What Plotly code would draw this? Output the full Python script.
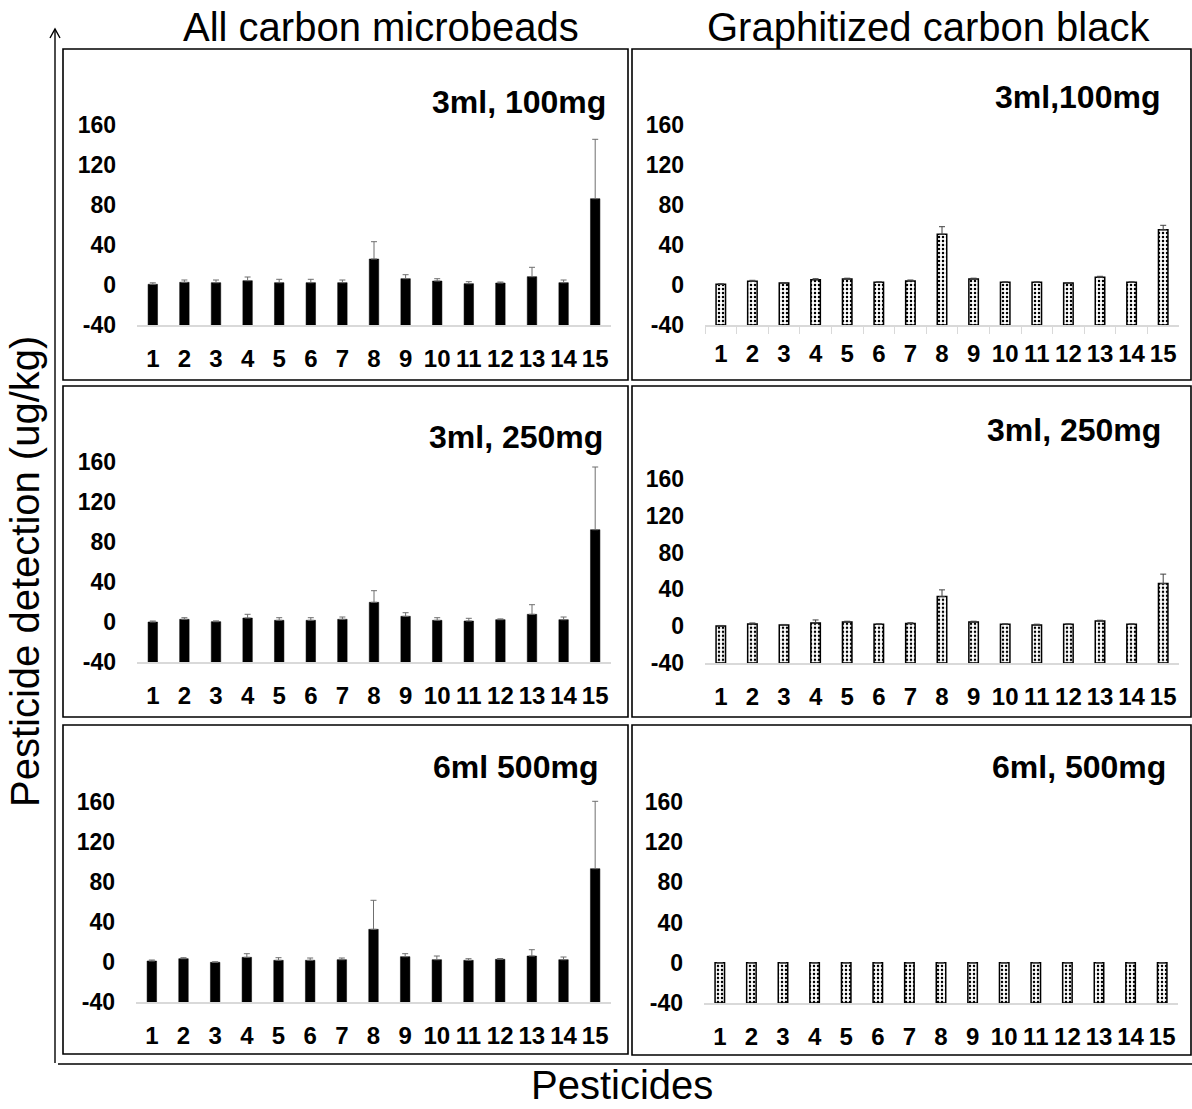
import plotly.graph_objects as go

W, H = 1192, 1109
FONT = "Arial, 'Liberation Sans', sans-serif"

categories = [str(i) for i in range(1, 16)]
y_ticks = [-40, 0, 40, 80, 120, 160]

# All carbon microbeads
acm_100 = [0.7, 2.7, 2.3, 4.3, 2.3, 2.3, 2.3, 26, 6.3, 4, 1.3, 2, 8.3, 2.3, 86.3]
acm_100_err = [1.5, 2.3, 2.7, 3.7, 3.4, 3.4, 2.7, 17.3, 4, 2.3, 2, 1, 9.4, 2.7, 59.4]
acm_250 = [0, 2.7, 0.3, 4, 1.7, 1.7, 2.7, 19.7, 5.7, 1.7, 1, 2.3, 7.7, 2.3, 92.3]
acm_250_err = [1, 1.6, 0.8, 3.7, 2.6, 2.6, 2.3, 11.6, 3.6, 2.6, 2.7, 0.8, 9.6, 2.7, 62.7]
acm_500 = [1, 3.3, -0.3, 4.7, 1.7, 1.7, 2.3, 32.7, 5.3, 2.3, 1.7, 2.7, 6, 2.3, 93.3]
acm_500_err = [1, 1, 0.5, 3.6, 2.6, 2.3, 1.7, 29, 3, 3.7, 1.6, 0.8, 6.3, 2.7, 67.4]

# Graphitized carbon black
gcb_100 = [0.7, 3.7, 2, 5.3, 6, 2.7, 4, 50.7, 6, 2.7, 2.7, 2, 7.7, 2.7, 55.3]
gcb_100_err = [0.5, 1, 0.5, 1, 0.8, 0.5, 1, 7.6, 0.8, 0.5, 0.5, 0.5, 1, 0.5, 4.4]
gcb_250 = [0.3, 2.5, 1.4, 3.6, 4.6, 2.1, 2.8, 32.2, 4.6, 2.1, 1.4, 2.1, 5.7, 2.1, 46.4]
gcb_250_err = [0.5, 1, 0.5, 3.2, 0.8, 0.5, 1, 7.3, 0.8, 0.5, 0.8, 0.5, 0.8, 0.5, 10.2]
gcb_500 = [0] * 15
gcb_500_err = [0] * 15

panel_titles = ["3ml, 100mg", "3ml,100mg", "3ml, 250mg", "3ml, 250mg", "6ml 500mg", "6ml, 500mg"]
column_titles = ["All carbon microbeads", "Graphitized carbon black"]
x_title = "Pesticides"
y_title = "Pesticide detection (ug/kg)"

BASE = -40
YMAX = 170

# panel geometry in pixels: (x0, x1, y at -40, y at 160)
panels = [
    dict(vals=acm_100, err=acm_100_err, kind="solid", x=(137, 611), y=(325, 125), ticks=False,
         title_xy=(608, 102)),
    dict(vals=gcb_100, err=gcb_100_err, kind="dots", x=(705, 1179), y=(325, 125), ticks=True,
         title_xy=(1162, 97)),
    dict(vals=acm_250, err=acm_250_err, kind="solid", x=(137, 611), y=(662, 462), ticks=False,
         title_xy=(605, 437)),
    dict(vals=gcb_250, err=gcb_250_err, kind="dots", x=(705, 1179), y=(663, 479), ticks=False,
         title_xy=(1163, 430)),
    dict(vals=acm_500, err=acm_500_err, kind="solid", x=(136, 611), y=(1002, 802), ticks=False,
         title_xy=(600, 767)),
    dict(vals=gcb_500, err=gcb_500_err, kind="dots", x=(704, 1178), y=(1003, 802), ticks=False,
         title_xy=(1168, 767)),
]


def px(x):
    return x / W


def py(y):
    return 1 - y / H


fig = go.Figure()
layout = dict(
    template="none",
    width=W, height=H, margin=dict(l=0, r=0, t=0, b=0, pad=0, autoexpand=False),
    paper_bgcolor="white", plot_bgcolor="rgba(0,0,0,0)",
    showlegend=False, font=dict(family=FONT, color="black"),
    bargap=0.7,
)
annotations = []
shapes = []

for i, p in enumerate(panels):
    n = i + 1
    xa = "x" if n == 1 else f"x{n}"
    ya = "y" if n == 1 else f"y{n}"
    y_bot, y_160 = p["y"]
    scale = (y_bot - y_160) / 200.0
    y_top = y_bot - (YMAX - BASE) * scale
    if p["kind"] == "solid":
        marker = dict(color="black", line=dict(color="black", width=0.5))
        err_col = "#6f6f6f"
    else:
        marker = dict(color="white", line=dict(color="black", width=1.5),
                      pattern=dict(shape=".", fgcolor="black", bgcolor="white",
                                   size=4, solidity=0.3))
        err_col = "#404040"
    fig.add_trace(go.Bar(
        x=categories,
        y=[v - BASE for v in p["vals"]],
        base=BASE,
        marker=marker,
        error_y=dict(type="data", symmetric=False, array=p["err"],
                     arrayminus=[0] * len(p["err"]), color=err_col,
                     thickness=1, width=3, visible=True),
        xaxis=xa, yaxis=ya, cliponaxis=False,
    ))
    xkey = "xaxis" if n == 1 else f"xaxis{n}"
    ykey = "yaxis" if n == 1 else f"yaxis{n}"
    layout[xkey] = dict(
        domain=[px(p["x"][0]), px(p["x"][1])], anchor=ya,
        type="category", showgrid=False, zeroline=False, automargin=False,
        showline=True, linecolor="#d9d9d9", linewidth=1.5,
        ticks="outside" if p["ticks"] else "", tickson="boundaries",
        ticklen=7, tickcolor="#d9d9d9", tickwidth=1,
        ticklabelstandoff=6 if p["ticks"] else 11,
        tickangle=0,
        tickfont=dict(family=FONT, size=24, color="black", weight="bold"),
        fixedrange=True,
    )
    layout[ykey] = dict(
        domain=[py(y_bot), py(y_top)], anchor=xa,
        range=[BASE, YMAX], tickvals=y_ticks, ticktext=[str(t) for t in y_ticks],
        showgrid=False, zeroline=False, showline=False, ticks="", automargin=False,
        ticklabelstandoff=20,
        tickfont=dict(family=FONT, size=23, color="black", weight="bold"),
        fixedrange=True,
    )
    annotations.append(dict(
        text=panel_titles[i], xref="paper", yref="paper",
        x=px(p["title_xy"][0]), y=py(p["title_xy"][1]),
        xanchor="right", yanchor="middle", showarrow=False,
        font=dict(family=FONT, size=32, color="black", weight="bold"),
    ))

# panel boxes
boxes = [(63, 49, 628, 380), (632, 49, 1191, 380),
         (63, 386, 628, 717), (632, 386, 1191, 717),
         (63, 725, 628, 1054), (632, 725, 1191, 1055)]
for (x0, y0, x1, y1) in boxes:
    shapes.append(dict(type="rect", xref="paper", yref="paper",
                       x0=px(x0), x1=px(x1), y0=py(y0), y1=py(y1),
                       line=dict(color="black", width=1.6), fillcolor="rgba(0,0,0,0)"))

# outer axis lines with arrow
shapes.append(dict(type="line", xref="paper", yref="paper",
                   x0=px(55), x1=px(55), y0=py(1063), y1=py(29),
                   line=dict(color="black", width=1.4)))
shapes.append(dict(type="path", xref="paper", yref="paper",
                   path=f"M {px(50)},{py(38)} L {px(55)},{py(29)} L {px(60)},{py(38)}",
                   line=dict(color="black", width=1.4)))
shapes.append(dict(type="line", xref="paper", yref="paper",
                   x0=px(58), x1=px(1192), y0=py(1064), y1=py(1064),
                   line=dict(color="black", width=1.4)))

# column titles and axis titles
for txt, cx in zip(column_titles, [381, 928]):
    annotations.append(dict(text=txt, xref="paper", yref="paper", x=px(cx), y=py(27),
                            xanchor="center", yanchor="middle", showarrow=False,
                            font=dict(family=FONT, size=40, color="black")))
annotations.append(dict(text=x_title, xref="paper", yref="paper", x=px(622), y=0,
                        xanchor="center", yanchor="bottom", showarrow=False,
                        font=dict(family=FONT, size=40, color="black")))
annotations.append(dict(text=y_title, xref="paper", yref="paper", x=px(25), y=py(572),
                        xanchor="center", yanchor="middle", showarrow=False, textangle=-90,
                        font=dict(family=FONT, size=40, color="black")))

layout["annotations"] = annotations
layout["shapes"] = shapes
fig.update_layout(**layout)
fig.write_html("out.html", config={"displayModeBar": False},
               post_script="document.body.style.margin='0';document.body.style.overflow='hidden';")
